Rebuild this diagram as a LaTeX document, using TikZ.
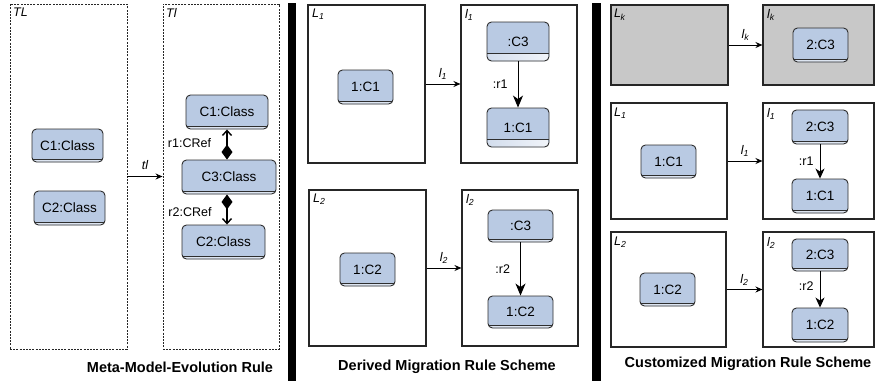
\documentclass[tikz,border=0pt]{standalone}
\usepackage{fontspec}
\setmainfont{Liberation Sans}
\usetikzlibrary{arrows.meta}

\definecolor{clsfill}{HTML}{B9CAE3}
\definecolor{clsband}{HTML}{DDE5F1}
\definecolor{clsline}{HTML}{2E2E2E}
\definecolor{rulegray}{HTML}{C8C8C8}

\tikzset{
  cls/.style={draw=clsline, line width=0.9pt, fill=clsfill, rounded corners=4.5pt,
    inner sep=0pt, font=\fontsize{13.5}{15}\selectfont},
  band/.style={path picture={
    \fill[clsband] (path picture bounding box.south west) rectangle
      ([yshift=#1]path picture bounding box.south east);
    \draw[clsline, line width=0.8pt] ([yshift=#1]path picture bounding box.south west) --
      ([yshift=#1]path picture bounding box.south east);}},
  shadeband/.style={path picture={
    \shade[left color=clsband!70!clsfill, right color=white!80!clsfill]
      (path picture bounding box.south west) rectangle
      ([yshift=#1]path picture bounding box.south east);
    \draw[clsline, line width=0.8pt] ([yshift=#1]path picture bounding box.south west) --
      ([yshift=#1]path picture bounding box.south east);}},
  dbox/.style={draw=black!85, dashed, dash pattern=on 2pt off 1.2pt, line width=0.9pt},
  sbox/.style={draw=black!85, line width=1.1pt},
  gbox/.style={sbox, fill=rulegray},
  boxlabel/.style={anchor=north west, inner sep=0pt, font=\fontsize{12.5}{14}\itshape},
  arrlabel/.style={inner sep=0pt, font=\fontsize{12.5}{14}\itshape},
  rlabel/.style={inner sep=0pt, font=\fontsize{12.5}{14}\selectfont},
  caption/.style={inner sep=0pt, font=\fontsize{14.5}{16}\bfseries},
  flow/.style={line width=1pt, -{Stealth[length=7pt,width=6pt]}},
  assoc/.style={line width=1pt, -{Stealth[length=12pt,width=10pt,inset=3.5pt]}},
  assocs/.style={line width=1pt, -{Stealth[length=10pt,width=9pt,inset=3pt]}},
  cref/.style={line width=1.6pt,
    {Diamond[length=15pt,width=11pt]}-{Straight Barb[length=5pt,width=9pt,line width=1.4pt]}},
  bar/.style={fill=black, draw=none}
}

\begin{document}
\begin{tikzpicture}[x=1pt, y=-1pt]
\useasboundingbox (0,0) rectangle (875,381);

% ---- meta-model evolution rule ----
\node[dbox, minimum width=117pt, minimum height=345pt, inner sep=0pt] (TLbox) at (68.5,176.5) {};
\node[dbox, minimum width=116pt, minimum height=345pt, inner sep=0pt] (TIbox) at (221,176.5) {};
\node[boxlabel] (TLlab) at (13,8) {TL};
\node[boxlabel] (TIlab) at (166,8) {Tl};

\node[cls, band=2.5pt, minimum width=71pt, minimum height=33pt] (lC1) at (67.5,145.5) {C1:Class};
\node[cls, band=2.5pt, minimum width=71pt, minimum height=34pt] (lC2) at (69.5,208) {C2:Class};

\draw[flow] (TLbox.east) -- node[arrlabel, above=6pt] (tllab) {tl} (TIbox.west);

\node[cls, band=2.5pt, minimum width=82pt, minimum height=34pt] (iC1) at (227,112) {C1:Class};
\node[cls, band=2.5pt, minimum width=94pt, minimum height=34pt] (iC3) at (229,177) {C3:Class};
\node[cls, band=2.5pt, minimum width=83pt, minimum height=34pt] (iC2) at (223.5,242) {C2:Class};

\draw[cref] (iC3.north -| iC1.south) -- (iC1.south);
\draw[cref] (iC3.south -| iC1.south) -- (iC1.south |- iC2.north);
\node[rlabel] (r1lab) at (189.5,143) {r1:CRef};
\node[rlabel] (r2lab) at (190,212) {r2:CRef};

\node[caption] (cap1) at (180,367) {Meta-Model-Evolution Rule};

\fill[bar] (288,3) rectangle (296,381);

% ---- derived migration rule scheme ----
\node[sbox, minimum width=117pt, minimum height=158pt, inner sep=0pt] (dL1) at (366.5,84) {};
\node[sbox, minimum width=116pt, minimum height=158pt, inner sep=0pt] (dI1) at (519,84) {};
\node[boxlabel] at (312,9) {L\textsubscript{1}};
\node[boxlabel] at (465,9) {l\textsubscript{1}};
\node[cls, band=2.5pt, minimum width=55pt, minimum height=34pt] (dA1) at (365.5,87) {1:C1};
\draw[flow] (dL1.east) -- node[arrlabel, above=4pt] {l\textsubscript{1}} (dI1.west);
\node[cls, shadeband=8pt, minimum width=62pt, minimum height=39pt] (dB1) at (518,41.5) {:C3};
\node[cls, shadeband=8pt, minimum width=62pt, minimum height=39pt] (dC1) at (518,127.5) {1:C1};
\draw[assoc] (dB1.south) -- node[rlabel, left=10pt] {:r1} (dC1.north);

\node[sbox, minimum width=117pt, minimum height=156pt, inner sep=0pt] (dL2) at (367.5,268) {};
\node[sbox, minimum width=116pt, minimum height=156pt, inner sep=0pt] (dI2) at (520,268) {};
\node[boxlabel] at (313,194) {L\textsubscript{2}};
\node[boxlabel] at (466,194) {l\textsubscript{2}};
\node[cls, band=2.5pt, minimum width=55pt, minimum height=33pt] (dA2) at (367.5,269.5) {1:C2};
\draw[flow] (dL2.east) -- node[arrlabel, above=4pt] {l\textsubscript{2}} (dI2.west);
\node[cls, band=2.5pt, minimum width=65pt, minimum height=32pt] (dB2) at (520.5,226) {:C3};
\node[cls, band=2.5pt, minimum width=65pt, minimum height=32pt] (dC2) at (520.5,312) {1:C2};
\draw[assoc] (dB2.south) -- node[rlabel, left=10pt] {:r2} (dC2.north);

\node[caption] (cap2) at (447,367) {Derived Migration Rule Scheme};

\fill[bar] (592,3) rectangle (601,381);

% ---- customized migration rule scheme ----
\node[gbox, minimum width=117pt, minimum height=80pt, inner sep=0pt] (cLk) at (669.5,45) {};
\node[gbox, minimum width=111pt, minimum height=80pt, inner sep=0pt] (cIk) at (818.5,45) {};
\node[boxlabel] at (614,9) {L\textsubscript{\kern-0.5pt k}};
\node[boxlabel] at (767,9) {l\textsubscript{k}};
\draw[flow] (cLk.east) -- node[arrlabel, above=4pt] {l\textsubscript{k}} (cIk.west);
\node[cls, band=2.5pt, minimum width=55pt, minimum height=34pt] (cKB) at (820.5,45) {2:C3};

\node[sbox, minimum width=116pt, minimum height=116pt, inner sep=0pt] (cL1) at (669,161) {};
\node[sbox, minimum width=111pt, minimum height=116pt, inner sep=0pt] (cI1) at (818.5,161) {};
\node[boxlabel] at (614,108) {L\textsubscript{1}};
\node[boxlabel] at (767,108) {l\textsubscript{1}};
\node[cls, band=2.5pt, minimum width=55pt, minimum height=33pt] (cA1) at (668.5,161.5) {1:C1};
\draw[flow] (cL1.east) -- node[arrlabel, above=4pt] {l\textsubscript{1}} (cI1.west);
\node[cls, band=2.5pt, minimum width=56pt, minimum height=34pt] (cB1) at (820,127) {2:C3};
\node[cls, band=2.5pt, minimum width=56pt, minimum height=34pt] (cC1) at (820,196) {1:C1};
\draw[assocs] (cB1.south) -- node[rlabel, left=6pt] {:r1} (cC1.north);

\node[sbox, minimum width=115pt, minimum height=115pt, inner sep=0pt] (cL2) at (668.5,289.5) {};
\node[sbox, minimum width=111pt, minimum height=115pt, inner sep=0pt] (cI2) at (818.5,289.5) {};
\node[boxlabel] at (614,237) {L\textsubscript{2}};
\node[boxlabel] at (767,237) {l\textsubscript{2}};
\node[cls, band=2.5pt, minimum width=55pt, minimum height=33pt] (cA2) at (667.5,289.5) {1:C2};
\draw[flow] (cL2.east) -- node[arrlabel, above=4pt] {l\textsubscript{2}} (cI2.west);
\node[cls, band=2.5pt, minimum width=56pt, minimum height=32pt] (cB2) at (820,255) {2:C3};
\node[cls, band=2.5pt, minimum width=56pt, minimum height=34pt] (cC2) at (820,325) {1:C2};
\draw[assocs] (cB2.south) -- node[rlabel, left=6pt, yshift=3pt] {:r2} (cC2.north);

\node[caption] (cap3) at (748,364) {Customized Migration Rule Scheme};
\end{tikzpicture}
\end{document}
